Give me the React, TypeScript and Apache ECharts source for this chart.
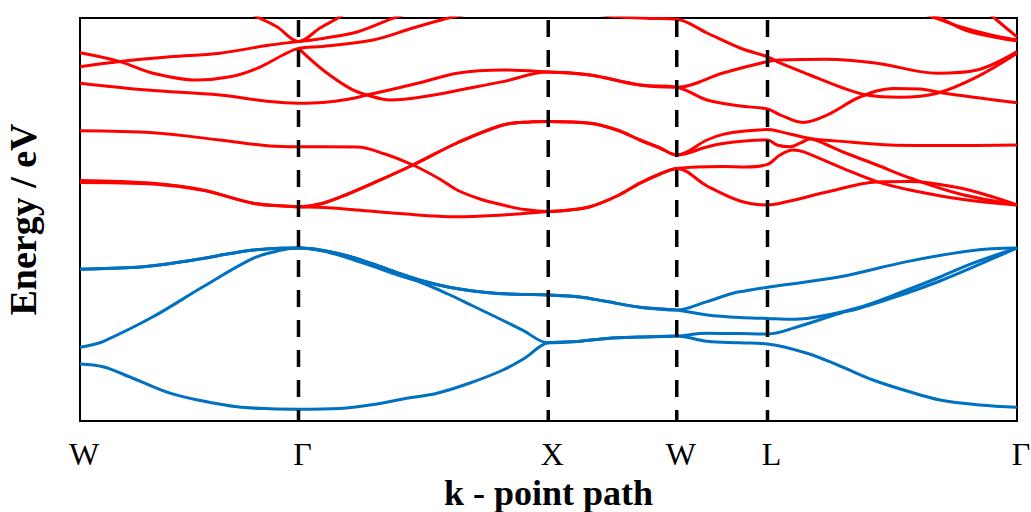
import React, { useEffect, useRef } from "react";
import * as echarts from "echarts";

// High-symmetry path W–Γ–X–W–L–Γ (path length, arbitrary units)
const K_LABELS = ["W", "Γ", "X", "W", "L", "Γ"];
const K_TICKS = [0, 0.874, 1.873, 2.387, 2.75, 3.748];

// Energy window (eV, valence band maximum at 0)
const E_MIN = -4.325;
const E_MAX = 5.75;

const RED = "#ff0000";
const BLUE = "#0070c0";
const SERIF = "'Times New Roman', 'Liberation Serif', serif";

// ---- shared segments (degenerate bands drawn on top of each other) ----
const redXW_a = [[2.04, 4.325], [2.24, 4.075], [2.387, 4.02]];
const redXW_b = [[1.96, 0.95], [2.04, 1.03], [2.148, 1.3], [2.24, 1.62], [2.32, 1.85], [2.387, 1.99]];
const redGX_c = [[0.972, 1.12], [1.072, 1.35], [1.172, 1.62], [1.332, 2.075], [1.508, 2.625], [1.692, 3.075], [1.8, 3.15], [1.873, 3.16]];
const redXW_c = [[2.04, 3.12], [2.148, 2.95], [2.24, 2.7], [2.32, 2.5], [2.387, 2.325]];

const blueWG_top = [[0, -0.53], [0.228, -0.48], [0.36, -0.39], [0.492, -0.26], [0.6, -0.14], [0.692, -0.05], [0.78, -0.01], [0.874, 0]];
const blueGX_top = [[0.972, -0.06], [1.072, -0.2], [1.172, -0.4], [1.272, -0.625], [1.372, -0.825], [1.472, -0.975], [1.572, -1.075], [1.672, -1.14], [1.772, -1.16], [1.873, -1.175]];
const blueXW_top = [[2.0, -1.225], [2.108, -1.34], [2.24, -1.48], [2.387, -1.55]];
const blueXW_low = [[2.0, -2.33], [2.108, -2.26], [2.24, -2.225], [2.387, -2.2]];

// ---- conduction bands ----
const bandC1 = [[0.64, 6.0], [0.708, 5.78], [0.788, 5.53], [0.874, 5.16], [0.96, 5.5], [1.04, 5.78], [1.088, 6.0]];
const bandC2 = [[0, 4.53], [0.16, 4.66], [0.36, 4.78], [0.56, 4.87], [0.76, 5.075], [0.874, 5.16], [0.972, 5.24], [1.108, 5.4], [1.268, 5.78], [1.4, 6.0]];
const bandC3 = [
  [0, 4.88], [0.16, 4.66], [0.292, 4.37], [0.468, 4.2], [0.6, 4.28], [0.708, 4.49], [0.812, 4.825], [0.874, 4.99],
  [0.972, 5.04], [1.172, 5.2], [1.332, 5.5], [1.492, 5.775], [1.68, 5.975], [1.873, 6.05],
  [2.04, 5.875], [2.148, 5.78], [2.28, 5.74], [2.387, 5.72],
  [2.508, 5.375], [2.64, 5.0], [2.75, 4.78],
  [2.8, 4.63], [2.92, 4.325], [3.052, 4.0], [3.148, 3.825], [3.28, 3.77], [3.428, 3.87], [3.588, 4.28], [3.748, 4.87],
];
const bandC4 = [
  [0, 4.12], [0.268, 3.95], [0.56, 3.825], [0.76, 3.66], [0.874, 3.62],
  [0.972, 3.64], [1.072, 3.72], [1.148, 3.825], [1.272, 4.0], [1.372, 4.15], [1.508, 4.37], [1.692, 4.45], [1.873, 4.4],
  ...redXW_a,
  [2.572, 4.375], [2.75, 4.66],
  [2.8, 4.7], [2.988, 4.72], [3.188, 4.62], [3.428, 4.37], [3.588, 4.45], [3.748, 4.91],
];
const bandC5 = [
  [0.874, 4.99], [0.972, 4.45], [1.08, 3.99], [1.148, 3.825], [1.24, 3.7], [1.372, 3.78], [1.56, 4.0], [1.692, 4.16], [1.873, 4.4],
  ...redXW_a,
  [2.508, 3.7], [2.64, 3.55], [2.75, 3.475],
  [2.8, 3.33], [2.892, 3.14], [2.988, 3.325], [3.12, 3.775], [3.252, 3.99], [3.36, 3.975], [3.452, 3.875], [3.6, 3.75], [3.748, 3.63],
];
const bandC6 = [
  [0, 2.93], [0.292, 2.88], [0.56, 2.7], [0.76, 2.55], [0.874, 2.53],
  [0.972, 2.53], [1.108, 2.525], [1.22, 2.35], [1.332, 2.075], [1.44, 1.72], [1.508, 1.45], [1.6, 1.225], [1.692, 1.075], [1.78, 0.96], [1.873, 0.91],
  ...redXW_b,
  [2.572, 2.04], [2.66, 2.025], [2.75, 2.09],
  [2.8, 2.325], [2.852, 2.45], [2.892, 2.41], [3.052, 1.99], [3.188, 1.66], [3.32, 1.45], [3.52, 1.225], [3.748, 1.075],
];
const bandC7 = [
  [0, 1.69], [0.292, 1.62], [0.492, 1.45], [0.692, 1.12], [0.812, 1.05], [0.874, 1.03],
  ...redGX_c,
  ...redXW_c,
  [2.508, 2.7], [2.572, 2.84], [2.66, 2.925], [2.75, 2.96],
  [2.8, 2.91], [2.92, 2.74], [3.08, 2.65], [3.24, 2.575], [3.48, 2.56], [3.748, 2.575],
];
const bandC8 = [
  [0, 1.64], [0.292, 1.6], [0.492, 1.44], [0.692, 1.12], [0.812, 1.05], [0.874, 1.03],
  ...redGX_c,
  ...redXW_c,
  [2.508, 2.525], [2.572, 2.61], [2.66, 2.675], [2.75, 2.7],
  [2.788, 2.575], [2.84, 2.53], [2.88, 2.62], [2.92, 2.725], [2.98, 2.6], [3.052, 2.4], [3.188, 2.075], [3.32, 1.75], [3.52, 1.35], [3.748, 1.075],
];
const bandC9 = [
  [0.874, 1.03], [0.972, 1.01], [1.108, 0.95], [1.28, 0.86], [1.508, 0.78], [1.692, 0.825], [1.8, 0.875], [1.873, 0.91],
  ...redXW_b,
  [2.508, 1.55], [2.64, 1.175], [2.75, 1.075],
  [2.84, 1.175], [2.988, 1.4], [3.188, 1.65], [3.32, 1.66], [3.52, 1.5], [3.64, 1.3], [3.748, 1.075],
];
const bandT1 = [[3.3, 6.05], [3.412, 5.775], [3.52, 5.53], [3.64, 5.33], [3.748, 5.2]];
const bandT2 = [[3.34, 6.0], [3.44, 5.75], [3.54, 5.45], [3.66, 5.27], [3.748, 5.18]];
const bandT3 = [[3.6, 6.05], [3.652, 5.78], [3.7, 5.525], [3.748, 5.28]];

// ---- valence bands ----
const bandV1 = [
  ...blueWG_top, ...blueGX_top, ...blueXW_top,
  [2.508, -1.34], [2.612, -1.13], [2.66, -1.075], [2.75, -0.98],
  [3.04, -0.72], [3.308, -0.34], [3.572, -0.06], [3.748, 0],
];
const bandV2 = [
  [0, -2.48], [0.04, -2.43], [0.092, -2.34], [0.292, -1.72], [0.492, -0.97], [0.692, -0.26], [0.8, -0.06], [0.874, 0],
  ...blueGX_top, ...blueXW_top,
  [2.508, -1.675], [2.64, -1.74], [2.75, -1.76],
  [2.84, -1.78], [2.908, -1.76], [3.108, -1.5], [3.308, -1.05], [3.44, -0.725], [3.572, -0.38], [3.748, 0],
];
const bandV3 = [
  ...blueWG_top,
  [0.972, -0.075], [1.072, -0.25], [1.172, -0.46], [1.272, -0.675], [1.36, -0.85], [1.472, -1.15], [1.572, -1.45], [1.672, -1.75], [1.772, -2.06], [1.873, -2.37],
  ...blueXW_low,
  [2.508, -2.13], [2.64, -2.14], [2.75, -2.15],
  [2.88, -1.95], [3.04, -1.63], [3.108, -1.525], [3.308, -1.125], [3.44, -0.825], [3.572, -0.48], [3.748, 0],
];
const bandV4 = [
  [0, -2.9], [0.092, -2.97], [0.2, -3.225], [0.36, -3.63], [0.492, -3.825], [0.628, -3.97], [0.76, -4.02], [0.874, -4.03],
  [1.04, -4.01], [1.16, -3.925], [1.292, -3.775], [1.428, -3.63], [1.56, -3.375], [1.692, -3.05], [1.78, -2.75], [1.873, -2.37],
  ...blueXW_low,
  [2.508, -2.33], [2.64, -2.37], [2.75, -2.4],
  [2.908, -2.63], [3.04, -2.95], [3.172, -3.3], [3.308, -3.575], [3.44, -3.8], [3.6, -3.925], [3.748, -3.98],
];

const conductionBands = [bandC1, bandC2, bandC3, bandC4, bandC5, bandC6, bandC7, bandC8, bandC9, bandT1, bandT2, bandT3];
const valenceBands = [bandV1, bandV2, bandV3, bandV4];

function labelFor(v: number): string {
  const i = K_TICKS.findIndex((k) => Math.abs(k - v) < 1e-6);
  return i >= 0 ? K_LABELS[i] : "";
}

function bandSeries(data: number[][], color: string) {
  return {
    type: "line",
    data,
    smooth: 0.35,
    symbol: "none",
    silent: true,
    lineStyle: { color, width: 3 },
    z: 2,
  };
}

export default function App() {
  const ref = useRef<HTMLDivElement>(null);

  useEffect(() => {
    if (!ref.current) return;
    const chart = echarts.init(ref.current, undefined, { renderer: "svg" });

    const symmetryLines = K_TICKS.slice(1, -1).map((k) => ({
      type: "line",
      data: [
        [k, E_MAX],
        [k, E_MIN],
      ],
      symbol: "none",
      silent: true,
      lineStyle: { color: "#000", width: 3.5, type: [17, 13], dashOffset: 28 },
      z: 5,
    }));

    chart.setOption({
      animation: false,
      backgroundColor: "#fff",
      grid: {
        left: 80,
        right: 14,
        top: 18,
        bottom: 91,
        outerBoundsMode: "none",
        show: true,
        borderColor: "#000",
        borderWidth: 2,
        backgroundColor: "transparent",
      },
      xAxis: {
        type: "value",
        min: 0,
        max: K_TICKS[K_TICKS.length - 1],
        axisLine: { show: false },
        axisTick: { show: false },
        splitLine: { show: false },
        axisLabel: {
          customValues: K_TICKS,
          formatter: (v: number) => labelFor(v),
          showMinLabel: true,
          showMaxLabel: true,
          fontFamily: SERIF,
          fontSize: 32,
          color: "#000",
          margin: 17,
          padding: [0, 0, 0, 8],
        },
        name: "k - point path",
        nameLocation: "middle",
        nameGap: 47,
        nameTextStyle: { fontFamily: SERIF, fontSize: 36, fontWeight: "bold", color: "#000" },
      },
      yAxis: {
        type: "value",
        min: E_MIN,
        max: E_MAX,
        axisLine: { show: false },
        axisTick: { show: false },
        axisLabel: { show: false },
        splitLine: { show: false },
        name: "Energy / eV",
        nameLocation: "middle",
        nameRotate: 90,
        nameGap: 38,
        nameTextStyle: { fontFamily: SERIF, fontSize: 38, fontWeight: "bold", color: "#000" },
      },
      series: [
        ...valenceBands.map((d) => bandSeries(d, BLUE)),
        ...conductionBands.map((d) => bandSeries(d, RED)),
        ...symmetryLines,
      ],
    });

    return () => chart.dispose();
  }, []);

  return (
    <div
      ref={ref}
      style={{ position: "absolute", left: 0, top: 0, width: 1031, height: 512, background: "#fff" }}
    />
  );
}
